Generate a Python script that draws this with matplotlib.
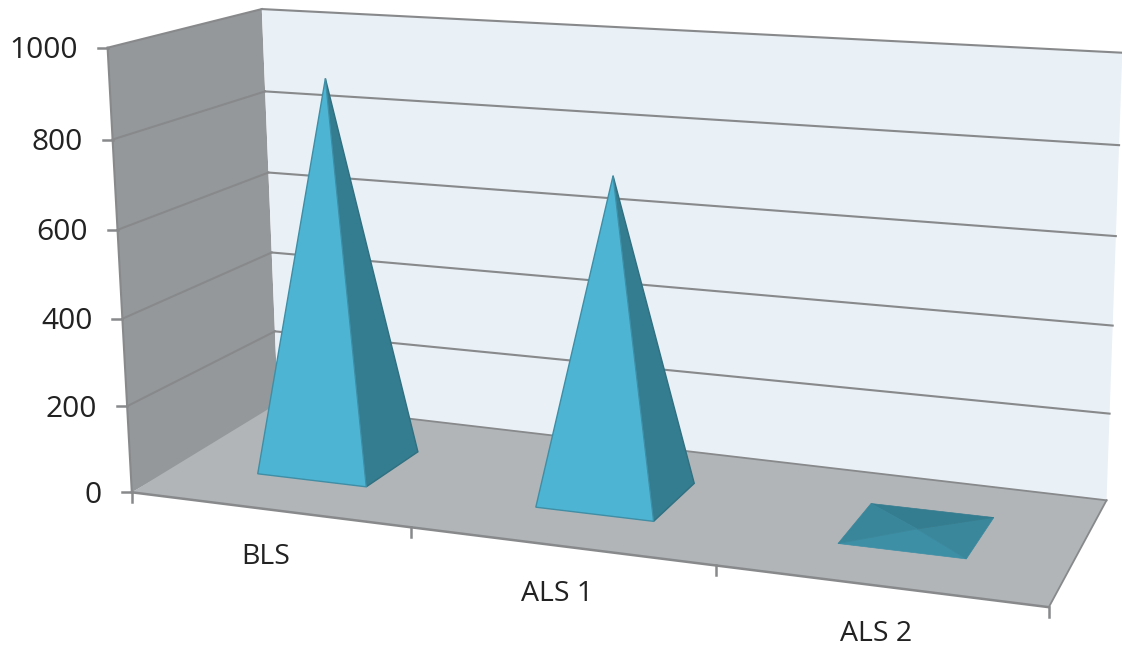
import matplotlib
matplotlib.use("Agg")
import matplotlib.pyplot as plt
import numpy as np

categories = ['BLS', 'ALS 1', 'ALS 2']
values = [900, 725, 3]
y_ticks = [0, 200, 400, 600, 800, 1000]

# where the value levels land in the picture, for the three vertical box edges
front_left = [(132, 489), (127, 404), (122, 318), (117, 230), (112, 141), (108, 50)]
back_left = [(278, 414), (275, 333), (272, 252), (269, 171), (265, 90), (262, 8)]
back_right = [(1105, 497), (1110, 413), (1113, 326), (1116, 237), (1119, 146), (1122, 52)]
front_right_floor = (1050, 610)


def fit_camera():
    box = []
    pix = []
    for t, a, b, c in zip(y_ticks, front_left, back_left, back_right):
        box += [(0, 0, t), (0, 1, t), (3, 1, t)]
        pix += [a, b, c]
    box.append((3, 0, 0))
    pix.append(front_right_floor)
    rows = []
    rhs = []
    for (x, d, v), (u, w) in zip(box, pix):
        v = v / 1000
        rows.append([x, d, v, 1, 0, 0, 0, 0, -u * x, -u * d, -u * v])
        rhs.append(u)
        rows.append([0, 0, 0, 0, x, d, v, 1, -w * x, -w * d, -w * v])
        rhs.append(w)
    sol = np.linalg.lstsq(np.array(rows, float), np.array(rhs, float), rcond=None)[0]
    return np.append(sol, 1).reshape(3, 4)


cam = fit_camera()


def pt(x, d, v):
    p = cam @ np.array([x, d, v / 1000, 1])
    return p[0] / p[2], p[1] / p[2]


def face(pts, **kw):
    ax.fill([pt(*p)[0] for p in pts], [pt(*p)[1] for p in pts], **kw)


def edge(p, q, **kw):
    a, b = pt(*p), pt(*q)
    ax.plot([a[0], b[0]], [a[1], b[1]], **kw)


fig = plt.figure(figsize=(11.22, 6.5), dpi=100)
ax = fig.add_axes([0, 0, 1, 1])
ax.set_xlim(0, 1122)
ax.set_ylim(650, 0)
ax.axis('off')

grey = '#87898b'

# walls and floor
face([(0, 0, 0), (0, 1, 0), (0, 1, 1000), (0, 0, 1000)], fc='#95989b', ec='none', zorder=1)
face([(0, 1, 0), (3, 1, 0), (3, 1, 1000), (0, 1, 1000)], fc='#e9f0f6', ec='none', zorder=1)
# the floor's back edge sits a bit above the wall's zero line on the left
floor = [(0, 0, 0), (3, 0, 0), (3, 1, 0), (0, 1, 15)]
face(floor, fc='#b1b5b8', ec='none', zorder=2)
edge(floor[2], floor[3], color=grey, lw=1.3, zorder=3)
edge(floor[1], floor[2], color=grey, lw=1.3, zorder=3)

# gridlines
for t in y_ticks[1:]:
    edge((0, 0, t), (0, 1, t), color=grey, lw=1.5, zorder=3)
    edge((0, 1, t), (3, 1, t), color=grey, lw=1.5, zorder=3)

# axes
edge((0, 0, 0), (0, 0, 1000), color=grey, lw=1.5, zorder=4)
edge((0, 0, 0), (3, 0, 0), color=grey, lw=1.8, zorder=4)
for t in y_ticks:
    u, w = pt(0, 0, t)
    ax.plot([u - 10, u], [w, w], color=grey, lw=1.8, zorder=4)
    ax.text(u - 30, w + 3, str(t), ha='right', va='center', fontsize=21.5, color='#222222',
            family='Open Sans')
for i in range(4):
    u, w = pt(i, 0, 0)
    ax.plot([u, u], [w, w + 10], color=grey, lw=1.8, zorder=4)

for i, name in enumerate(categories):
    u, w = pt(i + 0.5, 0, 0)
    ax.text(u - 3, w + 48, name, ha='center', va='center', fontsize=20.5, color='#222222',
            family='Open Sans')

# pyramids
half = 0.2
hd = 0.2
for i, val in enumerate(values):
    cx, cd = i + 0.492, 0.51
    fl = (cx - half, cd - hd, 0)
    fr = (cx + half, cd - hd, 0)
    br = (cx + half, cd + hd, 0)
    bl = (cx - half, cd + hd, 0)
    top = (cx, cd, val)
    if val > 50:
        face([fr, br, top], fc='#347c8f', ec='#2f7081', lw=1, zorder=6)
        face([fl, fr, top], fc='#4db5d3', ec='#3f8ea5', lw=1, zorder=7)
    else:
        face([fl, fr, top], fc='#3d8fa6', ec='#3d8fa6', lw=0.5, zorder=6)
        face([fr, br, top], fc='#3a879b', ec='#3a879b', lw=0.5, zorder=6)
        face([bl, br, top], fc='#347c8f', ec='#347c8f', lw=0.5, zorder=6)
        face([fl, bl, top], fc='#39869b', ec='#39869b', lw=0.5, zorder=6)

fig.savefig('out.png', dpi=100)
plt.close()
